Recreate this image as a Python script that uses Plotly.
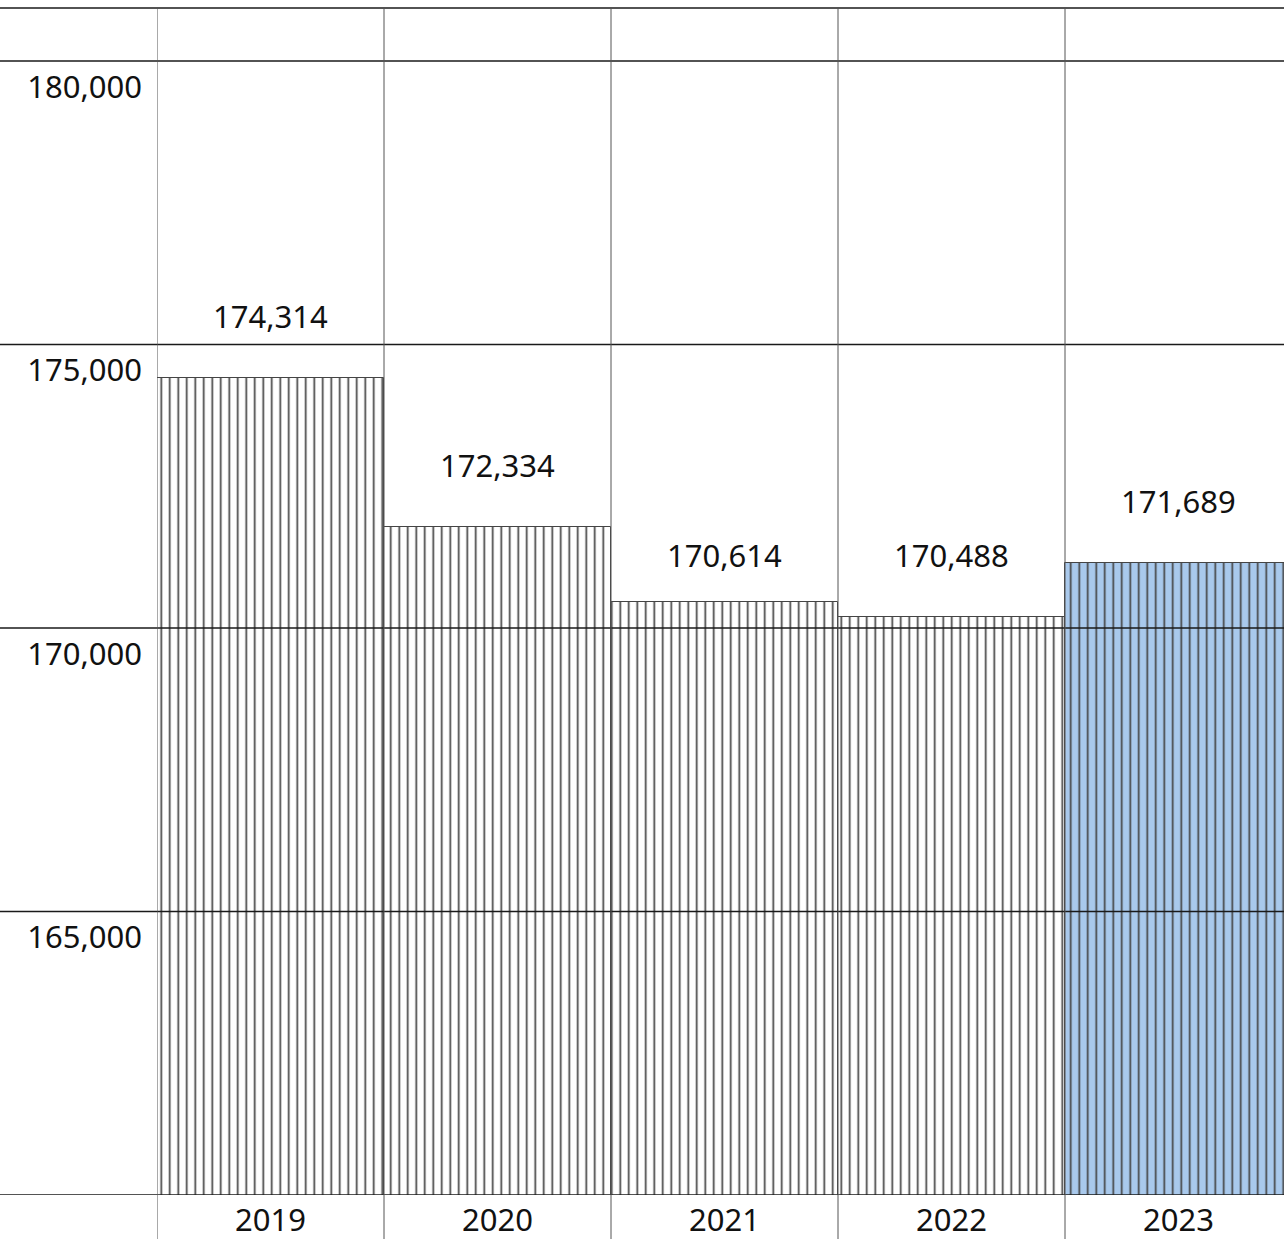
import plotly.graph_objs as go

years = ['2019', '2020', '2021', '2022', '2023']
# bar heights, labels as printed on it
bar_heights = [174409, 171781, 170459, 170194, 171146]
bar_labels = ['174,314', '172,334', '170,614', '170,488', '171,689']
grid_vals = [160000, 165000, 170000, 175000, 180000]
tick_vals = [165000, 170000, 175000, 180000]
tick_text = ['165,000', '170,000', '175,000', '180,000']

font = 'Noto Sans'
W, H = 1284, 1239
ml, mr, mt, mb = 157, 0, 8, 44
pw = W - ml - mr
ph = H - mt - mb
col_px = 227  # width of one year column

bar_colors = ['white'] * 4 + ['#a9c9ec']

data = [
    go.Bar(x=list(range(len(years))),
           y=bar_heights,
           width=1,
           marker=dict(color=bar_colors,
                       line=dict(color='#444444', width=1),
                       pattern=dict(shape='|', size=8.5, solidity=0.2,
                                    fgcolor='#000000', fgopacity=1,
                                    fillmode='overlay')),
           hoverinfo='skip',
           showlegend=False)
]

shapes = []
# horizontal rules run into the label column
for v in grid_vals:
    shapes.append(dict(type='line', xref='paper', yref='y',
                       x0=-ml / pw, x1=1, y0=v, y1=v,
                       line=dict(color='#1a1a1a', width=1.4), layer='above'))
shapes.append(dict(type='line', xref='paper', yref='paper',
                   x0=-ml / pw, x1=1, y0=1, y1=1,
                   line=dict(color='#1a1a1a', width=1.4), layer='above'))
# column separators, from the top rule down through the year row
for i in range(len(years)):
    shapes.append(dict(type='line', xref='x', yref='paper',
                       x0=i - 0.5, x1=i - 0.5, y0=-mb / ph, y1=1,
                       line=dict(color='#555555', width=1), layer='above'))

label_shift = {'2021': 47}
annotations = []
for i, (yr, h, lab) in enumerate(zip(years, bar_heights, bar_labels)):
    annotations.append(dict(x=i, y=h, xref='x', yref='y', text=lab, showarrow=False,
                            yshift=label_shift.get(yr, 62),
                            font=dict(family=font, size=31, color='#111111')))

layout = go.Layout(
    width=W, height=H,
    margin=dict(l=ml, r=mr, t=mt, b=mb),
    paper_bgcolor='white', plot_bgcolor='white',
    bargap=0,
    font=dict(family=font, size=31, color='#111111'),
    xaxis=dict(range=[-0.5, -0.5 + pw / col_px],
               tickvals=list(range(len(years))), ticktext=years,
               showgrid=False, zeroline=False, showline=False, ticks='',
               tickfont=dict(size=31), ticklabelstandoff=4),
    yaxis=dict(range=[160000, 180935], tickvals=tick_vals, ticktext=tick_text,
               showgrid=False, zeroline=False, showline=False, ticks='',
               ticklabelshift=26, ticklabelstandoff=14,
               tickfont=dict(size=31)),
    shapes=shapes,
    annotations=annotations,
)

fig = go.Figure(data=data, layout=layout)
# drop the browser's default 8px body margin so the figure fills the window
fig.write_html("out.html",
               config={'displayModeBar': False},
               post_script="document.body.style.margin='0';"
                           "document.documentElement.style.overflow='hidden';")
